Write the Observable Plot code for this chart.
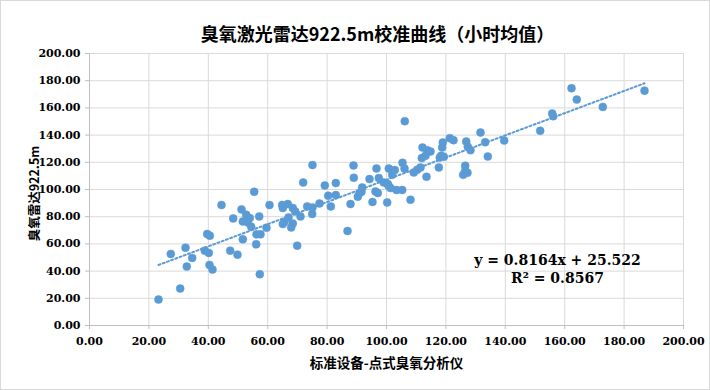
<!DOCTYPE html>
<html><head><meta charset="utf-8">
<script src="https://cdn.jsdelivr.net/npm/d3@7"></script>
<script src="https://cdn.jsdelivr.net/npm/@observablehq/plot@0.6"></script>
<style>
body{margin:0;background:#fff}
#chart{width:710px;height:390px;position:relative;outline:1px solid #d9d9d9;outline-offset:-1px}
#chart svg{display:block}
</style></head><body><div id="chart"></div>
<script>
const title = "臭氧激光雷达922.5m校准曲线（小时均值）";
const xLabel = "标准设备-点式臭氧分析仪";
const yLabel = "臭氧雷达922.5m";
const xTicks = [0,20,40,60,80,100,120,140,160,180,200];
const yTicks = [0,20,40,60,80,100,120,140,160,180,200];
const slope = 0.8164, intercept = 25.522, r2 = 0.8567;
const xValues = [23.23,27.37,30.54,32.32,32.76,34.58,39.63,40.51,38.82,40.17,40.40,41.41,44.44,47.37,49.83,48.38,51.18,51.62,52.76,53.97,53.30,54.44,51.62,55.45,57.14,56.23,57.58,56.13,57.34,59.60,60.61,64.88,66.77,65.08,68.45,69.26,67.00,65.08,65.66,67.91,68.45,71.04,69.93,73.30,75.08,74.98,71.95,75.08,77.44,79.23,82.93,80.37,81.25,82.93,86.87,87.88,88.89,88.99,90.34,90.91,91.82,94.28,95.29,96.63,96.30,97.07,97.41,99.09,100.77,100.44,100.24,106.16,105.39,102.79,106.06,101.92,101.35,103.37,105.29,108.08,131.65,121.31,122.56,126.84,133.23,139.63,118.96,118.75,127.37,128.28,112.12,113.70,114.81,111.89,113.13,118.42,119.29,117.95,134.11,117.61,111.45,110.34,109.19,113.47,126.50,126.50,125.82,127.27,162.29,164.07,186.87,172.83,155.79,156.13,151.75,91.58,100.67];
const yValues = [19.08,52.62,27.16,57.25,43.30,49.69,67.30,66.06,55.05,53.36,44.55,41.10,88.59,55.05,52.11,78.75,85.36,76.55,81.47,79.05,75.82,72.66,63.34,98.35,80.22,67.01,67.01,59.67,37.65,71.93,88.59,88.59,89.32,86.39,86.39,83.89,79.49,74.64,76.33,72.15,75.08,80.22,58.72,87.56,86.83,81.98,105.17,117.94,89.76,102.97,104.73,95.41,87.56,95.93,69.50,89.32,117.65,108.62,94.68,97.39,101.50,107.67,90.79,115.45,98.57,97.39,108.40,105.17,115.45,104.00,90.50,150.24,119.63,114.28,115.45,110.83,101.06,99.60,99.60,92.48,141.87,137.76,136.29,135.27,134.83,136.00,134.53,130.86,131.38,128.95,130.86,128.95,127.93,123.08,124.77,124.77,124.04,123.52,124.26,116.18,116.18,114.50,112.51,109.36,117.43,113.76,110.83,112.29,174.46,166.09,172.70,160.73,155.82,153.91,143.12,98.35,102.75];

const points = xValues.map((x, i) => ({x, y: yValues[i]}));
const xr = d3.extent(xValues);
const trend = xr.map(x => ({x, y: slope * x + intercept}));
const blue = "#5b9bd5";
const numFont = "DejaVu Serif";
const cjk = "'Noto Sans CJK SC'";

const chart = Plot.plot({
  width: 710, height: 390,
  marginLeft: 89, marginRight: 27, marginTop: 53, marginBottom: 65,
  style: {fontFamily: numFont, fontWeight: "bold", color: "#000", background: "#fff"},
  x: {domain: [0, 200]},
  y: {domain: [0, 200]},
  marks: [
    Plot.gridX(xTicks, {stroke: "#d9d9d9", strokeOpacity: 1}),
    Plot.gridY(yTicks, {stroke: "#d9d9d9", strokeOpacity: 1}),
    Plot.ruleX([0], {stroke: "#bfbfbf"}),
    Plot.ruleY([0], {stroke: "#bfbfbf"}),
    Plot.axisX(xTicks, {tickFormat: d => d.toFixed(2), tickSize: 4, tickPadding: 8, stroke: "#bfbfbf", fill: "#000", fontSize: 11, label: null}),
    Plot.axisY(yTicks, {tickFormat: d => d.toFixed(2), tickSize: 4, tickPadding: 5, stroke: "#bfbfbf", fill: "#000", fontSize: 11, label: null}),
    Plot.dot(points, {x: "x", y: "y", r: 4, fill: blue, stroke: blue, strokeWidth: 0.5}),
    Plot.line(trend, {x: "x", y: "y", stroke: blue, strokeWidth: 2, strokeDasharray: "2,2.5"}),
    Plot.text([title], {frameAnchor: "top", dx: -9, dy: -25, fontSize: 18, fontWeight: "bold", fontFamily: cjk, fill: "#000"}),
    Plot.text([xLabel], {frameAnchor: "bottom", textAnchor: "middle", dy: 42, fontSize: 13.5, fontWeight: "bold", fontFamily: cjk, fill: "#000"}),
    Plot.text([yLabel], {frameAnchor: "left", textAnchor: "middle", dx: -55, dy: 4, rotate: -90, fontSize: 12.5, fontWeight: "bold", fontFamily: cjk, fill: "#000"}),
    Plot.text([`y = ${slope}x + ${intercept}`], {frameAnchor: "bottom-right", dx: -126, dy: -61, textAnchor: "middle", fontSize: 14, fontWeight: "bold", fontFamily: numFont, fill: "#000"}),
    Plot.text([`R² = ${r2}`], {frameAnchor: "bottom-right", dx: -126, dy: -43, textAnchor: "middle", fontSize: 14, fontWeight: "bold", fontFamily: numFont, fill: "#000"})
  ]
});
document.getElementById("chart").appendChild(chart);
</script></body></html>
